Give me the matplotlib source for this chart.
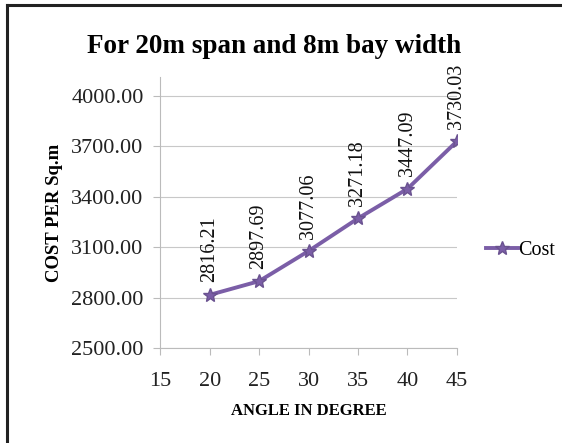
import matplotlib.pyplot as plt
from matplotlib.lines import Line2D

angle = [20, 25, 30, 35, 40, 45]
cost = [2816.21, 2897.69, 3077.06, 3271.18, 3447.09, 3730.03]
yticks = [2500, 2800, 3100, 3400, 3700, 4000]
xticks = [15, 20, 25, 30, 35, 40, 45]

plt.rcParams['font.family'] = ['Liberation Serif', 'DejaVu Serif']
purple = '#7b5ea7'

fig = plt.figure(figsize=(5.62, 4.43), dpi=100)
ax = fig.add_axes([0.285, 0.2144, 0.528, 0.612])

ax.plot(angle, cost, color=purple, lw=2.8, marker='*', markersize=10,
        markeredgecolor='#6a5290', label='Cost')

for x, y in zip(angle, cost):
    ax.annotate('%.2f' % y, (x, y), xytext=(0, 9), textcoords='offset points',
                rotation=90, ha='center', va='bottom', fontsize=14.5, color='#111111')

ax.set_xlim(15, 45)
ax.set_ylim(2500, 4113)
ax.set_xticks(xticks)
ax.set_yticks(yticks)
ax.set_yticklabels(['%.2f' % v for v in yticks])
ax.tick_params(axis='both', labelsize=16, colors='#222222', length=5, color='#bbbbbb')
ax.tick_params(axis='y', pad=7)
ax.tick_params(axis='x', pad=12)
ax.grid(axis='y', color='#c8c8c8', lw=0.8)
ax.set_axisbelow(True)
for s in ['top', 'right']:
    ax.spines[s].set_visible(False)
for s in ['left', 'bottom']:
    ax.spines[s].set_color('#bbbbbb')
    ax.spines[s].set_linewidth(0.8)

ax.set_xlabel('ANGLE IN DEGREE', fontsize=12, fontweight='bold', labelpad=9)
ax.set_ylabel('COST PER Sq.m', fontsize=13.5, fontweight='bold', labelpad=6)

fig.text(0.487, 0.894, 'For 20m span and 8m bay width', ha='center', va='center',
         fontsize=19.5, fontweight='bold')

ax.legend(loc='center left', bbox_to_anchor=(1.07, 0.36), frameon=False,
          fontsize=14.5, handlelength=1.6, handletextpad=0.0, borderaxespad=0)

# border on left and top
fig.add_artist(Line2D([0.0125, 0.0125], [0, 0.989], color='#222222', lw=2.2,
                      transform=fig.transFigure))
fig.add_artist(Line2D([0.0125, 1.0], [0.989, 0.989], color='#222222', lw=2.2,
                      transform=fig.transFigure))

fig.savefig('out.png', dpi=100)
